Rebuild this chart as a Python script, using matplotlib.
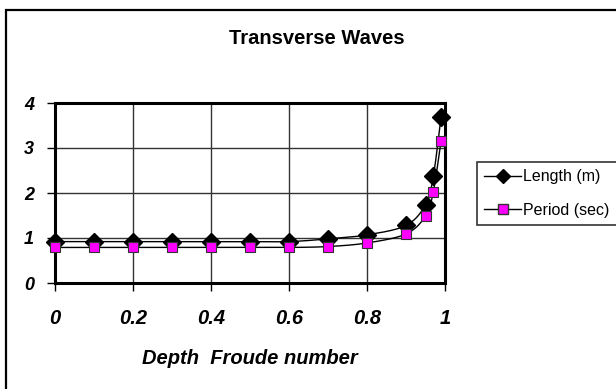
import numpy as np
import matplotlib
matplotlib.use("Agg")
import matplotlib.pyplot as plt
from matplotlib.patches import Rectangle
from matplotlib.lines import Line2D

# ---- data ----
froude = [0.0, 0.1, 0.2, 0.3, 0.4, 0.5, 0.6, 0.7, 0.8, 0.9, 0.95, 0.97, 0.99]
length_m = [0.92, 0.92, 0.92, 0.92, 0.92, 0.92, 0.92, 0.98, 1.07, 1.28, 1.74, 2.37, 3.70]
period_s = [0.79, 0.79, 0.79, 0.79, 0.79, 0.79, 0.79, 0.81, 0.89, 1.09, 1.49, 2.03, 3.16]
x_ticks = [0, 0.2, 0.4, 0.6, 0.8, 1]
x_tick_labels = ["0", "0.2", "0.4", "0.6", "0.8", "1"]
y_ticks = [0, 1, 2, 3, 4]
title = "Transverse Waves"
x_label = "Depth  Froude number"
series_names = ["Length (m)", "Period (sec)"]


def smooth(xs, ys, n=30):
    """Excel-like smoothed line: Catmull-Rom Bezier through the data points."""
    P = np.column_stack([xs, ys]).astype(float)
    out = [P[0]]
    t = np.linspace(0, 1, n)[1:, None]
    for i in range(len(P) - 1):
        p0 = P[i - 1] if i > 0 else P[i]
        p1, p2 = P[i], P[i + 1]
        p3 = P[i + 2] if i + 2 < len(P) else P[i + 1]
        c1 = p1 + (p2 - p0) / 6.0
        c2 = p2 - (p3 - p1) / 6.0
        seg = ((1 - t) ** 3) * p1 + 3 * ((1 - t) ** 2) * t * c1 + 3 * (1 - t) * t ** 2 * c2 + t ** 3 * p2
        out.extend(seg)
    out = np.array(out)
    return out[:, 0], out[:, 1]


plt.rcParams["font.family"] = ["Liberation Sans", "DejaVu Sans"]

fig = plt.figure(figsize=(6.16, 3.89), dpi=100)
W, H = 616, 389

# outer chart border (cut off at right/bottom)
fig.patches.append(Rectangle((6 / W, -0.05), 1.2, (H - 10) / H + 0.05, transform=fig.transFigure,
                             fill=False, edgecolor="black", linewidth=1.6))

ax = fig.add_axes([55 / W, (H - 283) / H, 390 / W, 180 / H])
ax.set_xlim(0, 1)
ax.set_ylim(0, 4)

for s in ax.spines.values():
    s.set_linewidth(2.2)
    s.set_color("black")

ax.set_xticks(x_ticks)
ax.set_xticklabels(x_tick_labels)
ax.set_yticks(y_ticks)
ax.tick_params(axis="x", direction="out", length=6, width=1, pad=13, labelsize=14.5)
ax.tick_params(axis="y", direction="out", length=6, width=1, pad=9, labelsize=13)
for lab in ax.get_xticklabels() + ax.get_yticklabels():
    lab.set_fontweight("bold")
    lab.set_fontstyle("italic")

ax.grid(True, color="#333333", linewidth=1.0)
ax.set_axisbelow(True)

# Length series
lx, ly = smooth(froude, length_m)
ax.plot(lx, ly, color="black", linewidth=1.0, clip_on=False, zorder=3)
ax.plot(froude, length_m, linestyle="none", marker="D", markersize=9,
        markerfacecolor="black", markeredgecolor="black", clip_on=False, zorder=4)
# Period series
px, py = smooth(froude, period_s)
ax.plot(px, py, color="black", linewidth=1.0, clip_on=False, zorder=3)
ax.plot(froude, period_s, linestyle="none", marker="s", markersize=7.5,
        markerfacecolor="#FF00FF", markeredgecolor="#333333", markeredgewidth=0.8,
        clip_on=False, zorder=5)

fig.text(317 / W, 1 - 39 / H, title, ha="center", va="center",
         fontsize=14.5, fontweight="bold")
fig.text(250 / W, 1 - 358 / H, x_label, ha="center", va="center",
         fontsize=14.5, fontweight="bold", fontstyle="italic")

# legend
handles = [
    Line2D([], [], color="black", linewidth=1.0, marker="D", markersize=7,
           markerfacecolor="black", markeredgecolor="black"),
    Line2D([], [], color="black", linewidth=1.0, marker="s", markersize=7,
           markerfacecolor="#FF00FF", markeredgecolor="#333333"),
]
leg = fig.legend(handles, series_names, loc="upper left",
                 bbox_to_anchor=(477 / W, 1 - 162 / H), bbox_transform=fig.transFigure,
                 frameon=True, fancybox=False, fontsize=11.5, handlelength=2.3,
                 handletextpad=0.15, borderpad=0.45, labelspacing=1.15, borderaxespad=0)
leg.get_frame().set_edgecolor("black")
leg.get_frame().set_linewidth(1.2)

fig.savefig("out.png", dpi=100)
